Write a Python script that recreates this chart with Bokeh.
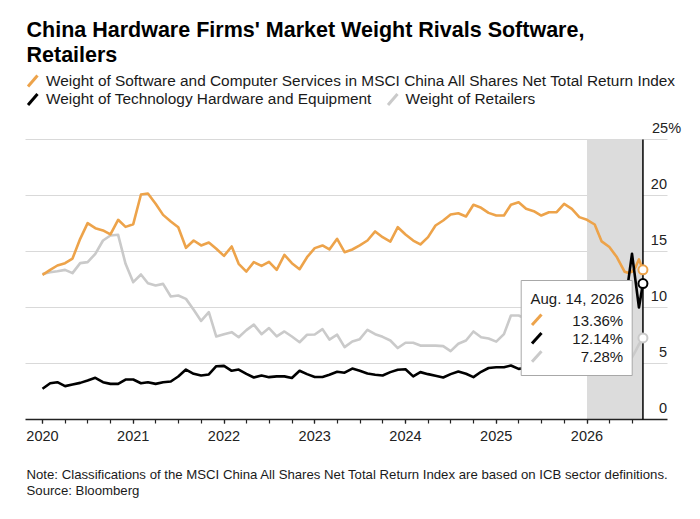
import numpy as np
import pandas as pd
from bokeh.plotting import figure
from bokeh.models import Range1d, FixedTicker, LinearAxis
from bokeh.embed import file_html
from bokeh.resources import INLINE
from bokeh.core.properties import value

# ---------------- data ----------------
dates = [d.strftime("%Y-%m-%d") for d in pd.date_range("2020-01-01", "2026-06-01", freq="MS")] + [
    "2026-06-15", "2026-07-01", "2026-07-15", "2026-07-29", "2026-08-14"]

software = [12.92, 13.36, 13.75, 13.96, 14.37, 16.13, 17.53, 17.08, 16.88, 16.52, 17.83, 17.20,
            17.44, 20.09, 20.18, 19.26, 18.27, 17.68, 17.17, 15.33, 15.98, 15.54, 15.80, 15.24,
            14.61, 15.45, 13.90, 13.21, 14.05, 13.72, 14.08, 13.36, 14.70, 13.96, 13.42, 14.49,
            15.30, 15.54, 15.18, 16.13, 14.94, 15.18, 15.54, 15.98, 16.79, 16.28, 15.89, 17.17,
            16.52, 15.98, 15.63, 16.28, 17.32, 17.77, 18.30, 18.42, 18.13, 19.17, 18.90, 18.45,
            18.21, 18.21, 19.17, 19.40, 18.81, 18.60, 18.21, 18.51, 18.51, 19.26, 18.81, 18.07,
            17.83, 17.41, 15.90, 15.40, 14.50, 13.20,
            13.10, 13.20, 13.60, 14.30, 13.36]

hardware = [2.74, 3.24, 3.33, 2.98, 3.13, 3.27, 3.48, 3.72, 3.33, 3.18, 3.18, 3.57,
            3.57, 3.24, 3.33, 3.18, 3.33, 3.39, 3.84, 4.46, 4.08, 3.93, 4.02, 4.76,
            4.79, 4.35, 4.46, 4.08, 3.75, 3.93, 3.78, 3.85, 3.85, 3.70, 4.35, 4.05,
            3.80, 3.80, 4.00, 4.26, 4.18, 4.55, 4.35, 4.10, 4.00, 3.93, 4.23, 4.44,
            4.48, 3.85, 4.23, 4.05, 3.90, 3.75, 4.05, 4.29, 4.08, 3.78, 4.26, 4.60,
            4.67, 4.67, 4.82, 4.52, 4.60, 4.80, 5.20, 5.60, 6.00, 6.50, 7.20, 7.80,
            8.50, 9.40, 10.20, 10.80, 11.30, 11.60,
            12.20, 14.80, 12.40, 10.00, 12.14]

retailers = [13.00, 13.15, 13.24, 13.36, 13.07, 13.96, 14.05, 14.79, 15.98, 16.43, 16.49, 13.90,
             12.26, 12.95, 12.17, 11.96, 12.11, 10.98, 11.07, 10.77, 9.80, 8.80, 9.58, 7.41,
             7.62, 7.80, 7.35, 7.98, 8.47, 7.62, 8.16, 7.42, 7.86, 7.41, 6.90, 7.57,
             7.59, 8.07, 7.14, 7.57, 6.46, 6.97, 7.17, 8.01, 7.62, 7.38, 7.05, 6.38,
             6.85, 6.85, 6.60, 6.60, 6.60, 6.55, 6.10, 6.76, 7.05, 7.86, 7.35, 7.23,
             6.95, 7.62, 9.29, 9.29, 9.00, 8.80, 8.50, 8.60, 8.30, 8.00, 7.80, 7.60,
             7.30, 7.00, 6.60, 6.30, 6.00, 5.80,
             5.60, 5.55, 6.10, 6.70, 7.28]

series_names = ["Weight of Software and Computer Services in MSCI China All Shares Net Total Return Index",
                "Weight of Technology Hardware and Equipment",
                "Weight of Retailers"]
year_ticks = [2020, 2021, 2022, 2023, 2024, 2025, 2026]
quarter_ticks = [2020 + q / 4 for q in range(0, 27)]
y_ticks = [0, 5, 10, 15, 20, 25]
shade_start = "2026-01-01"

title_lines = ["China Hardware Firms' Market Weight Rivals Software,", "Retailers"]
note_lines = ["Note: Classifications of the MSCI China All Shares Net Total Return Index are based on ICB sector definitions.",
              "Source: Bloomberg"]

# ---------------- styles ----------------
ORANGE = "#EDA34A"
BLACK = "#000000"
GRAY = "#CACACA"
TEXT = "#1a1a1a"
FONT = value("Liberation Sans")

W = 700
H = 519

def to_year(ds):
    dt = pd.to_datetime(ds)
    days = np.where(dt.is_leap_year, 366, 365)
    return np.asarray(dt.year + (dt.dayofyear - 1) / days, dtype=float)

xs = to_year(dates)
x_last = xs[-1]
shade_x = float(to_year([shade_start])[0])

# pixel geometry (canvas pixels) -> data coordinates
X2020 = 42.0; YEAR_PX = 90.75; GRID_L = 25.0; GRID_R = 667.0
Y0 = 419.0; PCT_PX = 11.2
def px_x(px):
    return 2020 + (px - X2020) / YEAR_PX
def px_y(py):
    return (Y0 - py) / PCT_PX
def tx_y(py, size):
    # baseline position for text of a given font size (small upward correction)
    return px_y(py - 0.3 * size)

p = figure(width=W, height=H,
           x_range=Range1d(px_x(0), px_x(W)), y_range=Range1d(px_y(H), px_y(0)),
           output_backend="svg", toolbar_location=None,
           x_axis_location=None, y_axis_location=None, min_border=0)
p.outline_line_color = None
p.grid.visible = False
p.background_fill_color = "#ffffff"

# ---- x axis (fixed at 0%) ----
ax = LinearAxis(fixed_location=0)
ax.ticker = FixedTicker(ticks=year_ticks, minor_ticks=quarter_ticks)
ax.axis_line_color = None
ax.major_tick_in = 0; ax.major_tick_out = 4
ax.minor_tick_in = 0; ax.minor_tick_out = 4
ax.major_tick_line_color = "#222222"; ax.minor_tick_line_color = "#222222"
ax.major_tick_line_width = 1.2; ax.minor_tick_line_width = 1.2
ax.major_label_text_font = "Liberation Sans"
ax.major_label_text_font_size = "14.5px"
ax.major_label_text_color = "#222222"
ax.major_label_standoff = 7
p.add_layout(ax, "below")

# ---- gridlines, shading, baseline ----
grid_vals = [v for v in y_ticks if v > 0]
p.segment(x0=[px_x(GRID_L)] * len(grid_vals), y0=grid_vals, x1=[px_x(GRID_R)] * len(grid_vals), y1=grid_vals,
          line_color="#d9d9d9", line_width=1)
p.quad(left=[shade_x], right=[x_last], bottom=[0], top=[max(y_ticks)], fill_color="#dcdcdc", line_color=None)
p.segment(x0=[px_x(GRID_L)], y0=[0], x1=[px_x(GRID_R)], y1=[0], line_color="#222222", line_width=1.4)

# ---- series ----
p.line(xs, retailers, line_color=GRAY, line_width=2.6, line_join="round")
p.line(xs, software, line_color=ORANGE, line_width=2.6, line_join="round")
p.line(xs, hardware, line_color=BLACK, line_width=2.6, line_join="round")

# hover line
p.segment(x0=[x_last], y0=[0], x1=[x_last], y1=[max(y_ticks)], line_color="#000000", line_width=1.5)

# ---- y labels (placed above gridlines, right side) ----
LAB = 14.5
p.text(x=[px_x(666.5)] * 5, y=[tx_y(Y0 - v * PCT_PX - 6.8, LAB) for v in y_ticks[:-1]],
       text=[str(v) for v in y_ticks[:-1]],
       text_font=FONT, text_font_size=value(f"{LAB}px"), text_color="#222222",
       text_align="right", text_baseline="alphabetic")
p.text(x=[px_x(651.5)], y=[tx_y(Y0 - y_ticks[-1] * PCT_PX - 6.8, LAB)], text=[f"{y_ticks[-1]}%"],
       text_font=FONT, text_font_size=value(f"{LAB}px"), text_color="#222222",
       text_align="left", text_baseline="alphabetic")

# ---- tooltip ----
leg_col = [ORANGE, BLACK, GRAY]
TT = 15
p.quad(left=[px_x(520.7)], right=[px_x(631.7)], bottom=[px_y(375)], top=[px_y(280)],
       fill_color="#ffffff", line_color="#a8a8a8", line_width=1)
d = pd.Timestamp(dates[-1])
p.text(x=[px_x(530)], y=[tx_y(302.5, TT)], text=[f"{d.strftime('%b')}. {d.day}, {d.year}"],
       text_font=FONT, text_font_size=value(f"{TT}px"), text_color=TEXT,
       text_align="left", text_baseline="alphabetic")
tt_base = [324.0, 342.5, 360.7]
last_vals = [software[-1], hardware[-1], retailers[-1]]
p.segment(x0=[px_x(531.5)] * 3, y0=[px_y(b + 0.5) for b in tt_base], x1=[px_x(541)] * 3,
          y1=[px_y(b - 10) for b in tt_base], line_color=leg_col, line_width=3)
p.text(x=[px_x(622.7)] * 3, y=[tx_y(b, TT) for b in tt_base], text=[f"{v:.2f}%" for v in last_vals],
       text_font=FONT, text_font_size=value(f"{TT}px"), text_color=TEXT,
       text_align="right", text_baseline="alphabetic")
p.scatter(x=[x_last] * 3, y=last_vals, size=9, fill_color="#ffffff", line_color=leg_col, line_width=2)

# ---- title ----
TS = 21.5
p.text(x=[px_x(26)] * 2, y=[tx_y(36, TS), tx_y(60.7, TS)], text=title_lines, text_font=FONT,
       text_font_style="bold", text_font_size=value(f"{TS}px"), text_color="#000000",
       text_baseline="alphabetic", text_align="left")

# ---- legend ----
LS = 15.4
leg_x = [27.5, 27.5, 387.5]
leg_base = [84.5, 103.0, 103.0]
p.segment(x0=[px_x(x) for x in leg_x], y0=[px_y(b + 1.5) for b in leg_base],
          x1=[px_x(x + 9.5) for x in leg_x], y1=[px_y(b - 9.5) for b in leg_base],
          line_color=leg_col, line_width=3)
p.text(x=[px_x(45.5), px_x(45.5), px_x(405.0)], y=[tx_y(b, LS) for b in leg_base], text=series_names,
       text_font=FONT, text_font_size=value(f"{LS}px"), text_color=TEXT,
       text_baseline="alphabetic", text_align="left")

# ---- footer ----
FS = 13.2
p.text(x=[px_x(26)] * 2, y=[tx_y(478, FS), tx_y(494, FS)], text=note_lines, text_font=FONT,
       text_font_size=value(f"{FS}px"), text_color=TEXT, text_align="left", text_baseline="alphabetic")

open("out.html", "w").write(file_html(p, INLINE))
